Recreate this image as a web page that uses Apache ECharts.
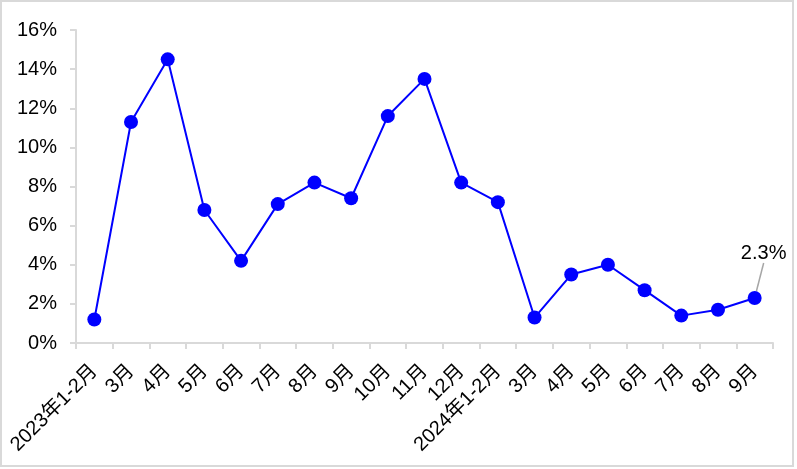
<!DOCTYPE html>
<html>
<head>
<meta charset="utf-8">
<script src="https://cdn.jsdelivr.net/npm/echarts@6/dist/echarts.min.js"></script>
<style>
html,body{margin:0;padding:0;background:#fff;}
#wrap{position:relative;width:797px;height:469px;overflow:hidden;}
#chart{position:absolute;left:0;top:0;width:797px;height:469px;}
#frame{position:absolute;left:0;top:0;width:794px;height:467px;box-sizing:border-box;border:2px solid #d9d9d9;pointer-events:none;}
</style>
</head>
<body>
<div id="wrap"><div id="chart"></div><div id="frame"></div></div>
<script>
const categories = ['2023年1-2月','3月','4月','5月','6月','7月','8月','9月','10月','11月','12月','2024年1-2月','3月','4月','5月','6月','7月','8月','9月'];
const values = [1.2, 11.3, 14.5, 6.8, 4.2, 7.1, 8.2, 7.4, 11.6, 13.5, 8.2, 7.2, 1.3, 3.5, 4.0, 2.7, 1.4, 1.7, 2.3];
const yTicks = {min: 0, max: 16, interval: 2};

const font = '"Liberation Sans", Arial, "Noto Sans CJK SC", sans-serif';
const chart = echarts.init(document.getElementById('chart'), null, {renderer: 'canvas'});
const lastIdx = values.length - 1;
const seriesData = values.map((v, i) => i === lastIdx ? {
  value: v,
  label: {show: true, position: 'top', formatter: p => p.value.toFixed(1) + '%', color: '#000', fontSize: 20, fontFamily: font},
  labelLine: {show: true, lineStyle: {color: '#a6a6a6', width: 1.5}}
} : v);

chart.setOption({
  animation: false,
  backgroundColor: '#fff',
  grid: {left: 76, right: 24, top: 30, bottom: 126, containLabel: false},
  xAxis: {
    type: 'category',
    data: categories,
    boundaryGap: true,
    axisLine: {lineStyle: {color: '#d9d9d9', width: 2}},
    axisTick: {show: true, length: 6, lineStyle: {color: '#d9d9d9', width: 2}},
    axisLabel: {interval: 0, rotate: 45, margin: 25, color: '#000', fontSize: 20, fontFamily: font}
  },
  yAxis: {
    type: 'value',
    min: yTicks.min, max: yTicks.max, interval: yTicks.interval,
    splitLine: {show: false},
    axisLine: {show: true, lineStyle: {color: '#d9d9d9', width: 2}},
    axisTick: {show: true, length: 6, lineStyle: {color: '#d9d9d9', width: 2}},
    axisLabel: {margin: 19, color: '#000', fontSize: 20, fontFamily: font, formatter: v => v + '%'}
  },
  series: [{
    type: 'line',
    data: seriesData,
    symbol: 'circle',
    symbolSize: 14,
    lineStyle: {color: '#0000ff', width: 2},
    itemStyle: {color: '#0000ff'},
    labelLayout: {dx: 9, dy: -23},
    labelLine: {show: false}
  }]
});
</script>
</body>
</html>
